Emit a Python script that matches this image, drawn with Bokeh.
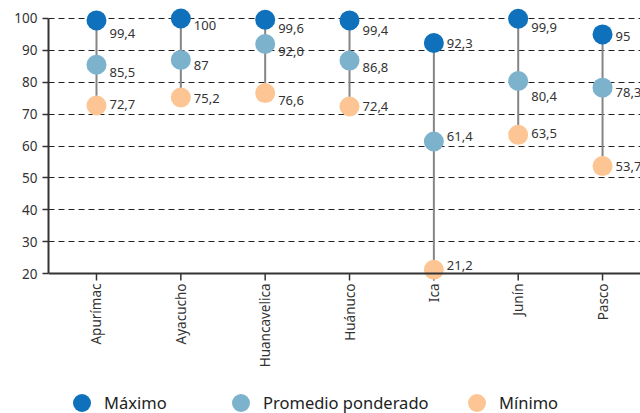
from bokeh.plotting import figure
from bokeh.layouts import column
from bokeh.models import Range1d, FixedTicker, Legend, LegendItem, ColumnDataSource, Span
from bokeh.core.properties import value
from bokeh.embed import file_html
from bokeh.resources import INLINE
import math

# Regions and indicator values (%)
regiones = ["Apurímac", "Ayacucho", "Huancavelica", "Huánuco", "Ica", "Junín", "Pasco"]
maximo = [99.4, 100, 99.6, 99.4, 92.3, 99.9, 95]
promedio = [85.5, 87, 92.0, 86.8, 61.4, 80.4, 78.3]
minimo = [72.7, 75.2, 76.6, 72.4, 21.2, 63.5, 53.7]
lab_max = ["99,4", "100", "99,6", "99,4", "92,3", "99,9", "95"]
lab_prom = ["85,5", "87", "92,0", "86,8", "61,4", "80,4", "78,3"]
lab_min = ["72,7", "75,2", "76,6", "72,4", "21,2", "63,5", "53,7"]
series = ["Máximo", "Promedio ponderado", "Mínimo"]
y_ticks = [20, 30, 40, 50, 60, 70, 80, 90, 100]
y_base = 20

# Vertical nudges (screen px, downwards) for the value labels
dy_max = [13, 7, 9, 10, 0, 9, 2]
dy_prom = [8, 6, 8, 7, -5, 16, 5]
dy_min = [-1, 1, 7, 0, -4, -1, 0]

FONT = "Noto Sans"
COLORS = ["#0f71bb", "#7db2cc", "#fdc593"]
TXT = "#333333"
AXIS = "#333333"
PX_PER_UNIT = 3.2

xs = list(range(len(regiones)))

# main chart; the frame reaches a little below the baseline so the lowest marker is not cut
p = figure(width=640, height=370, output_backend="svg", toolbar_location=None,
           x_range=Range1d(-0.569, 6.45), y_range=Range1d(16.875, 103.44),
           min_border_left=48, min_border_right=0, min_border_top=7, min_border_bottom=86)
p.outline_line_color = None
p.background_fill_color = "white"
p.border_fill_color = "white"

# dashed horizontal guides
p.ygrid.ticker = FixedTicker(ticks=y_ticks[1:])
p.ygrid.grid_line_color = "#222222"
p.ygrid.grid_line_dash = "6 4"
p.ygrid.grid_line_width = 1
p.xgrid.grid_line_color = None

# baseline and category ticks
p.add_layout(Span(location=y_base, dimension="width", line_color=AXIS, line_width=2))
p.segment(x0=xs, y0=[y_base] * len(xs), x1=xs, y1=[y_base - 7 / PX_PER_UNIT] * len(xs),
          line_color=AXIS, line_width=1.5)

# connector from maximum to minimum
p.segment(x0=xs, y0=maximo, x1=xs, y1=minimo, line_color="#858585", line_width=2)

all_series = (maximo, promedio, minimo)
for vals, col in zip(all_series, COLORS):
    p.scatter(x=xs, y=vals, size=20, color=col, line_color=None)

for vals, labs, dys in zip(all_series, (lab_max, lab_prom, lab_min), (dy_max, dy_prom, dy_min)):
    src = ColumnDataSource(dict(x=xs, y=vals, t=labs, dy=dys))
    p.text(x="x", y="y", text="t", source=src, x_offset=13, y_offset="dy",
           text_font=value(FONT), text_font_size="13px", text_color=TXT,
           text_baseline="middle", text_align="left")

# axes
p.yaxis.ticker = FixedTicker(ticks=y_ticks)
p.yaxis.bounds = (20, 100)
p.yaxis.axis_line_color = AXIS
p.yaxis.axis_line_width = 2
p.yaxis.major_tick_line_color = AXIS
p.yaxis.major_tick_line_width = 1.5
p.yaxis.major_tick_out = 6
p.yaxis.major_tick_in = 0
p.yaxis.minor_tick_line_color = None
p.yaxis.major_label_text_font = FONT
p.yaxis.major_label_text_font_size = "13.5px"
p.yaxis.major_label_text_color = TXT
p.yaxis.major_label_standoff = 5

p.xaxis.ticker = FixedTicker(ticks=xs)
p.xaxis.major_label_overrides = {i: r for i, r in enumerate(regiones)}
p.xaxis.major_label_orientation = math.pi / 2
p.xaxis.axis_line_color = None
p.xaxis.major_tick_line_color = None
p.xaxis.major_tick_out = 0
p.xaxis.major_tick_in = 0
p.xaxis.minor_tick_line_color = None
p.xaxis.major_label_text_font = FONT
p.xaxis.major_label_text_font_size = "13.5px"
p.xaxis.major_label_text_color = TXT
p.xaxis.major_label_standoff = 0

# legend strip under the chart (its series renderers fall outside this strip's range);
# the strip's frame is aligned with the chart frame above
lg = figure(width=640, height=43, output_backend="svg", toolbar_location=None,
            x_axis_type=None, y_axis_type=None, x_range=Range1d(0, 1), y_range=Range1d(0, 1),
            min_border=0, min_border_left=0, min_border_right=0,
            min_border_top=0, min_border_bottom=0)
lg.outline_line_color = None
lg.grid.grid_line_color = None
for name, vals, col, lx in zip(series, all_series, COLORS, (11, 170, 406)):
    r = lg.scatter(x=xs, y=vals, size=20, color=col, line_color=None)
    leg = Legend(items=[LegendItem(label=name, renderers=[r])], location=(lx, -12),
                 glyph_width=45, glyph_height=45, label_standoff=0,
                 padding=0, margin=0, border_line_color=None, background_fill_alpha=0,
                 label_text_font=FONT, label_text_font_size="16.5px", label_text_color="#222222")
    lg.add_layout(leg)

open("out.html", "w").write(file_html(column(p, lg, spacing=0), INLINE))
